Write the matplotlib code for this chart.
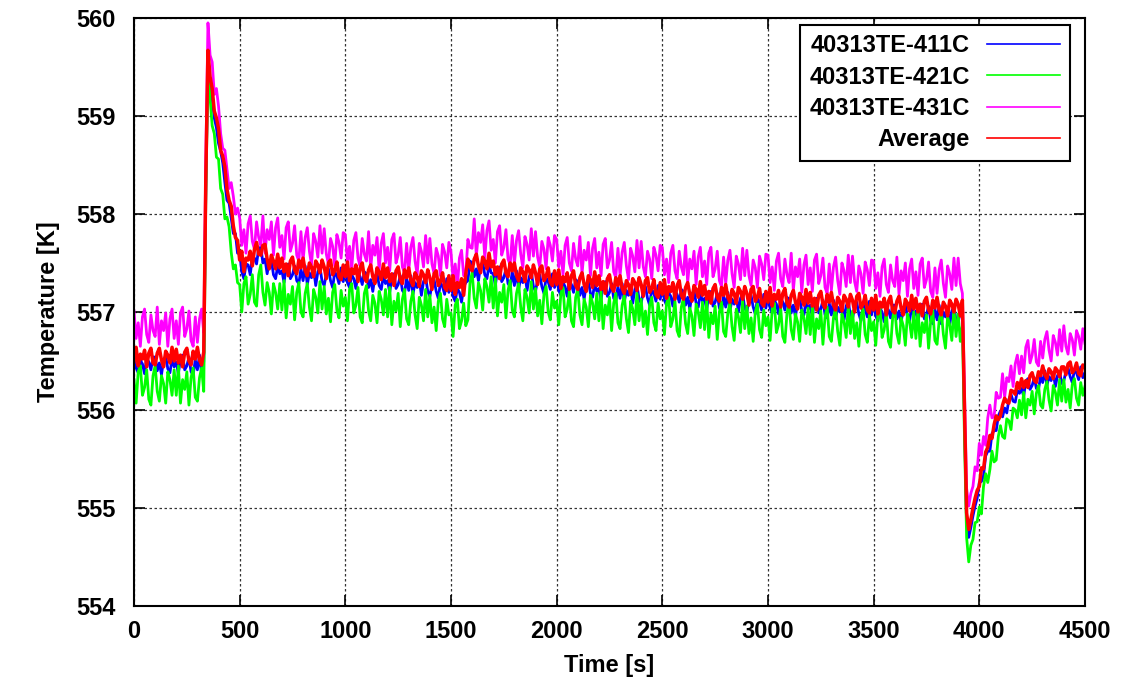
import numpy as np
import matplotlib
matplotlib.use("Agg")
import matplotlib.pyplot as plt

plt.rcParams['font.family'] = ['Liberation Sans', 'DejaVu Sans']
plt.rcParams['font.weight'] = 'bold'

# time axis, one reading every 10 s
time_s = np.arange(0, 4501, 10)

# values (K), one row = 100 s
te_411c = [
    556.56, 556.43, 556.38, 556.51, 556.47, 556.37, 556.53, 556.49, 556.41, 556.54,
    556.54, 556.40, 556.48, 556.36, 556.51, 556.55, 556.42, 556.38, 556.52, 556.44,
    556.49, 556.37, 556.53, 556.56, 556.41, 556.45, 556.54, 556.39, 556.36, 556.51,
    556.41, 556.56, 556.37, 556.49, 558.30, 559.58, 559.30, 559.18, 558.98, 558.88,
    558.72, 558.64, 558.52, 558.32, 558.14, 558.11, 557.96, 557.80, 557.80, 557.60,
    557.60, 557.41, 557.34, 557.49, 557.48, 557.38, 557.56, 557.55, 557.49, 557.65,
    557.66, 557.50, 557.54, 557.39, 557.51, 557.53, 557.38, 557.34, 557.47, 557.39,
    557.42, 557.30, 557.46, 557.49, 557.34, 557.38, 557.47, 557.32, 557.29, 557.44,
    557.32, 557.47, 557.28, 557.40, 557.35, 557.44, 557.27, 557.41, 557.46, 557.31,
    557.27, 557.39, 557.44, 557.32, 557.25, 557.41, 557.37, 557.29, 557.45, 557.31,
    557.43, 557.30, 557.25, 557.38, 557.34, 557.24, 557.40, 557.36, 557.28, 557.41,
    557.39, 557.25, 557.33, 557.21, 557.36, 557.40, 557.27, 557.23, 557.37, 557.29,
    557.32, 557.20, 557.36, 557.39, 557.24, 557.28, 557.37, 557.22, 557.19, 557.34,
    557.22, 557.37, 557.18, 557.30, 557.25, 557.34, 557.17, 557.31, 557.36, 557.21,
    557.16, 557.28, 557.33, 557.21, 557.14, 557.30, 557.26, 557.18, 557.34, 557.20,
    557.29, 557.16, 557.11, 557.24, 557.20, 557.10, 557.26, 557.30, 557.32, 557.52,
    557.50, 557.36, 557.44, 557.32, 557.47, 557.51, 557.38, 557.34, 557.48, 557.40,
    557.39, 557.27, 557.43, 557.46, 557.31, 557.35, 557.44, 557.29, 557.26, 557.41,
    557.27, 557.42, 557.23, 557.35, 557.30, 557.39, 557.22, 557.36, 557.41, 557.26,
    557.21, 557.33, 557.38, 557.26, 557.19, 557.35, 557.31, 557.23, 557.39, 557.25,
    557.35, 557.22, 557.17, 557.30, 557.26, 557.16, 557.32, 557.28, 557.20, 557.33,
    557.31, 557.17, 557.25, 557.13, 557.28, 557.32, 557.19, 557.15, 557.29, 557.21,
    557.24, 557.12, 557.28, 557.31, 557.16, 557.20, 557.29, 557.14, 557.11, 557.26,
    557.14, 557.29, 557.10, 557.22, 557.17, 557.26, 557.09, 557.23, 557.28, 557.13,
    557.09, 557.21, 557.26, 557.14, 557.07, 557.23, 557.19, 557.11, 557.27, 557.13,
    557.25, 557.12, 557.07, 557.20, 557.16, 557.06, 557.22, 557.18, 557.10, 557.23,
    557.21, 557.07, 557.15, 557.03, 557.18, 557.22, 557.09, 557.05, 557.19, 557.11,
    557.14, 557.02, 557.18, 557.21, 557.06, 557.10, 557.19, 557.04, 557.01, 557.16,
    557.05, 557.20, 557.01, 557.13, 557.08, 557.17, 557.00, 557.14, 557.19, 557.04,
    557.00, 557.12, 557.17, 557.05, 556.98, 557.14, 557.10, 557.02, 557.18, 557.04,
    557.17, 557.04, 556.99, 557.12, 557.08, 556.98, 557.14, 557.10, 557.02, 557.15,
    557.13, 556.99, 557.07, 556.95, 557.10, 557.14, 557.01, 556.97, 557.11, 557.03,
    557.07, 556.95, 557.11, 557.14, 556.99, 557.03, 557.12, 556.97, 556.94, 557.09,
    556.97, 557.12, 556.93, 557.05, 557.00, 557.09, 556.92, 557.06, 557.11, 556.96,
    556.93, 557.05, 557.10, 556.98, 556.91, 557.07, 557.03, 556.95, 557.11, 556.97,
    557.09, 556.96, 556.91, 557.04, 557.00, 556.90, 557.06, 557.02, 556.94, 557.07,
    557.07, 556.93, 557.01, 556.89, 557.04, 557.08, 556.95, 556.91, 557.05, 556.97,
    557.01, 556.89, 557.05, 557.08, 556.93, 556.97, 557.06, 556.91, 556.88, 557.03,
    556.92, 557.07, 556.88, 557.00, 556.95, 557.04, 556.87, 557.01, 557.06, 556.91,
    556.89, 557.01, 557.06, 555.90, 554.85, 554.70, 554.80, 554.92, 555.02, 555.10,
    555.26, 555.27, 555.33, 555.53, 555.58, 555.58, 555.76, 555.79, 555.79, 555.94,
    555.99, 555.93, 556.02, 555.97, 556.11, 556.16, 556.09, 556.08, 556.20, 556.17,
    556.22, 556.14, 556.29, 556.32, 556.21, 556.25, 556.33, 556.22, 556.21, 556.34,
    556.28, 556.40, 556.25, 556.34, 556.30, 556.38, 556.24, 556.35, 556.39, 556.27,
    556.30, 556.39, 556.43, 556.34, 556.28, 556.41, 556.38, 556.31, 556.44, 556.33,
    556.38,
]

te_421c = [
    556.31, 556.07, 556.39, 556.45, 556.15, 556.23, 556.41, 556.11, 556.05, 556.35,
    556.45, 556.19, 556.09, 556.35, 556.27, 556.07, 556.39, 556.31, 556.15, 556.41,
    556.15, 556.45, 556.07, 556.31, 556.21, 556.39, 556.05, 556.33, 556.43, 556.13,
    556.09, 556.33, 556.43, 556.19, 558.20, 559.48, 559.18, 558.90, 558.82, 558.58,
    558.56, 558.26, 558.20, 557.95, 557.97, 557.87, 557.61, 557.44, 557.48, 557.30,
    557.28, 557.00, 557.29, 557.36, 557.08, 557.18, 557.38, 557.10, 557.06, 557.38,
    557.48, 557.20, 557.07, 557.30, 557.20, 556.98, 557.29, 557.20, 557.03, 557.29,
    557.02, 557.32, 556.94, 557.18, 557.08, 557.26, 556.92, 557.20, 557.30, 557.00,
    556.95, 557.19, 557.29, 557.05, 556.91, 557.23, 557.15, 556.99, 557.31, 557.03,
    557.26, 556.98, 557.14, 556.90, 557.20, 557.28, 557.02, 556.94, 557.22, 557.06,
    557.15, 556.91, 557.23, 557.29, 556.99, 557.07, 557.25, 556.95, 556.89, 557.19,
    557.27, 557.01, 556.91, 557.17, 557.09, 556.89, 557.21, 557.13, 556.97, 557.23,
    556.95, 557.25, 556.87, 557.11, 557.01, 557.19, 556.85, 557.13, 557.23, 556.93,
    556.87, 557.11, 557.21, 556.97, 556.83, 557.15, 557.07, 556.91, 557.23, 556.95,
    557.17, 556.89, 557.05, 556.81, 557.11, 557.19, 556.93, 556.85, 557.13, 556.97,
    556.99, 556.75, 557.07, 557.13, 556.83, 556.91, 557.09, 556.86, 556.92, 557.30,
    557.40, 557.14, 557.04, 557.30, 557.22, 557.02, 557.34, 557.26, 557.10, 557.36,
    557.04, 557.34, 556.96, 557.20, 557.10, 557.28, 556.94, 557.22, 557.32, 557.02,
    556.95, 557.19, 557.29, 557.05, 556.91, 557.23, 557.15, 556.99, 557.31, 557.03,
    557.24, 556.96, 557.12, 556.88, 557.18, 557.26, 557.00, 556.92, 557.20, 557.04,
    557.11, 556.87, 557.19, 557.25, 556.95, 557.03, 557.21, 556.91, 556.85, 557.15,
    557.23, 556.97, 556.87, 557.13, 557.05, 556.85, 557.17, 557.09, 556.93, 557.19,
    556.91, 557.21, 556.83, 557.07, 556.97, 557.15, 556.81, 557.09, 557.19, 556.89,
    556.83, 557.07, 557.17, 556.93, 556.79, 557.11, 557.03, 556.87, 557.19, 556.91,
    557.13, 556.85, 557.01, 556.77, 557.07, 557.15, 556.89, 556.81, 557.09, 556.93,
    557.01, 556.77, 557.09, 557.15, 556.85, 556.93, 557.11, 556.81, 556.75, 557.05,
    557.14, 556.88, 556.78, 557.04, 556.96, 556.76, 557.08, 557.00, 556.84, 557.10,
    556.82, 557.12, 556.74, 556.98, 556.88, 557.06, 556.72, 557.00, 557.10, 556.80,
    556.75, 556.99, 557.09, 556.85, 556.71, 557.03, 556.95, 556.79, 557.11, 556.83,
    557.06, 556.78, 556.94, 556.70, 557.00, 557.08, 556.82, 556.74, 557.02, 556.86,
    556.95, 556.71, 557.03, 557.09, 556.79, 556.87, 557.05, 556.75, 556.69, 556.99,
    557.08, 556.82, 556.72, 556.98, 556.90, 556.70, 557.02, 556.94, 556.78, 557.04,
    556.77, 557.07, 556.69, 556.93, 556.83, 557.01, 556.67, 556.95, 557.05, 556.75,
    556.70, 556.94, 557.04, 556.80, 556.66, 556.98, 556.90, 556.74, 557.06, 556.78,
    557.01, 556.73, 556.89, 556.65, 556.95, 557.03, 556.77, 556.69, 556.97, 556.81,
    556.90, 556.66, 556.98, 557.04, 556.74, 556.82, 557.00, 556.70, 556.64, 556.94,
    557.04, 556.78, 556.68, 556.94, 556.86, 556.66, 556.98, 556.90, 556.74, 557.00,
    556.73, 557.03, 556.65, 556.89, 556.79, 556.97, 556.63, 556.91, 557.01, 556.71,
    556.67, 556.91, 557.01, 556.77, 556.63, 556.95, 556.87, 556.71, 557.03, 556.75,
    556.98, 556.70, 556.86, 555.70, 554.70, 554.45, 554.62, 554.68, 554.85, 554.86,
    555.01, 554.94, 555.22, 555.35, 555.26, 555.39, 555.58, 555.47, 555.49, 555.73,
    555.84, 555.73, 555.71, 555.91, 555.89, 555.80, 556.02, 556.00, 555.92, 556.10,
    555.95, 556.18, 555.92, 556.11, 556.05, 556.19, 555.96, 556.17, 556.25, 556.05,
    556.02, 556.21, 556.29, 556.10, 555.99, 556.25, 556.18, 556.05, 556.31, 556.09,
    556.31, 556.08, 556.21, 556.02, 556.26, 556.32, 556.12, 556.05, 556.28, 556.15,
    556.24,
]

te_431c = [
    557.01, 556.73, 556.89, 556.65, 556.95, 557.03, 556.77, 556.69, 556.97, 556.81,
    556.75, 557.05, 556.67, 556.91, 556.81, 556.99, 556.65, 556.93, 557.03, 556.73,
    556.91, 556.67, 556.99, 557.05, 556.75, 556.83, 557.01, 556.71, 556.65, 556.95,
    556.69, 556.93, 557.03, 556.79, 558.60, 559.95, 559.62, 559.55, 559.22, 559.28,
    559.10, 558.82, 558.67, 558.65, 558.46, 558.26, 558.32, 558.18, 558.00, 558.06,
    557.96, 557.68, 557.84, 557.60, 557.90, 557.98, 557.72, 557.64, 557.92, 557.76,
    557.68, 557.98, 557.60, 557.84, 557.74, 557.92, 557.58, 557.86, 557.96, 557.66,
    557.78, 557.54, 557.86, 557.92, 557.62, 557.70, 557.88, 557.58, 557.52, 557.82,
    557.52, 557.76, 557.86, 557.62, 557.48, 557.80, 557.72, 557.56, 557.88, 557.60,
    557.85, 557.59, 557.49, 557.75, 557.67, 557.47, 557.79, 557.71, 557.55, 557.81,
    557.79, 557.51, 557.67, 557.43, 557.73, 557.81, 557.55, 557.47, 557.75, 557.59,
    557.52, 557.82, 557.44, 557.68, 557.58, 557.76, 557.42, 557.70, 557.80, 557.50,
    557.66, 557.42, 557.74, 557.80, 557.50, 557.58, 557.76, 557.46, 557.40, 557.70,
    557.42, 557.66, 557.76, 557.52, 557.38, 557.70, 557.62, 557.46, 557.78, 557.50,
    557.75, 557.49, 557.39, 557.65, 557.57, 557.37, 557.69, 557.61, 557.45, 557.71,
    557.61, 557.33, 557.49, 557.25, 557.55, 557.63, 557.37, 557.39, 557.74, 557.66,
    557.65, 557.95, 557.57, 557.81, 557.71, 557.89, 557.55, 557.83, 557.93, 557.63,
    557.74, 557.50, 557.82, 557.88, 557.58, 557.66, 557.84, 557.54, 557.48, 557.78,
    557.49, 557.73, 557.83, 557.59, 557.45, 557.77, 557.69, 557.53, 557.85, 557.57,
    557.82, 557.56, 557.46, 557.72, 557.64, 557.44, 557.76, 557.68, 557.52, 557.78,
    557.74, 557.46, 557.62, 557.38, 557.68, 557.76, 557.50, 557.42, 557.70, 557.54,
    557.47, 557.77, 557.39, 557.63, 557.53, 557.71, 557.37, 557.65, 557.75, 557.45,
    557.61, 557.37, 557.69, 557.75, 557.45, 557.53, 557.71, 557.41, 557.35, 557.65,
    557.37, 557.61, 557.71, 557.47, 557.33, 557.65, 557.57, 557.41, 557.73, 557.45,
    557.72, 557.46, 557.36, 557.62, 557.54, 557.34, 557.66, 557.58, 557.42, 557.68,
    557.66, 557.38, 557.54, 557.30, 557.60, 557.68, 557.42, 557.34, 557.62, 557.46,
    557.38, 557.68, 557.30, 557.54, 557.44, 557.62, 557.28, 557.56, 557.66, 557.36,
    557.52, 557.28, 557.60, 557.66, 557.36, 557.44, 557.62, 557.32, 557.26, 557.56,
    557.29, 557.53, 557.63, 557.39, 557.25, 557.57, 557.49, 557.33, 557.65, 557.37,
    557.63, 557.37, 557.27, 557.53, 557.45, 557.25, 557.57, 557.49, 557.33, 557.59,
    557.58, 557.30, 557.46, 557.22, 557.52, 557.60, 557.34, 557.26, 557.54, 557.38,
    557.30, 557.60, 557.22, 557.46, 557.36, 557.54, 557.20, 557.48, 557.58, 557.28,
    557.45, 557.21, 557.53, 557.59, 557.29, 557.37, 557.55, 557.25, 557.19, 557.49,
    557.22, 557.46, 557.56, 557.32, 557.18, 557.50, 557.42, 557.26, 557.58, 557.30,
    557.57, 557.31, 557.21, 557.47, 557.39, 557.19, 557.51, 557.43, 557.27, 557.53,
    557.52, 557.24, 557.40, 557.16, 557.46, 557.54, 557.28, 557.20, 557.48, 557.32,
    557.26, 557.56, 557.18, 557.42, 557.32, 557.50, 557.16, 557.44, 557.54, 557.24,
    557.41, 557.17, 557.49, 557.55, 557.25, 557.33, 557.51, 557.21, 557.15, 557.45,
    557.19, 557.43, 557.53, 557.29, 557.15, 557.47, 557.39, 557.23, 557.55, 557.27,
    557.55, 557.29, 557.19, 556.20, 555.20, 555.02, 555.15, 555.22, 555.42, 555.38,
    555.66, 555.54, 555.73, 555.64, 555.92, 556.05, 555.92, 555.93, 556.18, 556.12,
    556.13, 556.37, 556.13, 556.33, 556.29, 556.45, 556.24, 556.47, 556.56, 556.37,
    556.55, 556.38, 556.64, 556.71, 556.48, 556.56, 556.72, 556.49, 556.45, 556.70,
    556.53, 556.72, 556.80, 556.61, 556.50, 556.76, 556.69, 556.56, 556.82, 556.60,
    556.86, 556.65, 556.57, 556.78, 556.72, 556.56, 556.81, 556.75, 556.62, 556.83,
    556.68,
]

average = [
    556.49, 556.64, 556.45, 556.57, 556.52, 556.61, 556.44, 556.58, 556.63, 556.48,
    556.46, 556.58, 556.63, 556.51, 556.44, 556.60, 556.56, 556.48, 556.64, 556.50,
    556.62, 556.48, 556.56, 556.44, 556.59, 556.63, 556.50, 556.46, 556.60, 556.52,
    556.64, 556.51, 556.46, 556.59, 558.40, 559.67, 559.40, 559.28, 559.05, 558.98,
    558.87, 558.65, 558.59, 558.48, 558.25, 558.14, 558.08, 557.88, 557.76, 557.73,
    557.53, 557.62, 557.41, 557.55, 557.53, 557.62, 557.47, 557.64, 557.71, 557.59,
    557.58, 557.68, 557.69, 557.54, 557.44, 557.58, 557.52, 557.44, 557.59, 557.45,
    557.55, 557.41, 557.49, 557.37, 557.52, 557.56, 557.43, 557.39, 557.53, 557.45,
    557.55, 557.42, 557.37, 557.50, 557.46, 557.36, 557.52, 557.48, 557.40, 557.53,
    557.46, 557.34, 557.50, 557.53, 557.38, 557.42, 557.51, 557.36, 557.33, 557.48,
    557.36, 557.51, 557.32, 557.44, 557.39, 557.48, 557.31, 557.45, 557.50, 557.35,
    557.31, 557.43, 557.48, 557.36, 557.29, 557.45, 557.41, 557.33, 557.49, 557.35,
    557.45, 557.31, 557.39, 557.27, 557.42, 557.46, 557.33, 557.29, 557.43, 557.35,
    557.45, 557.32, 557.27, 557.40, 557.36, 557.26, 557.42, 557.38, 557.30, 557.43,
    557.35, 557.23, 557.39, 557.42, 557.27, 557.31, 557.40, 557.25, 557.22, 557.37,
    557.22, 557.37, 557.18, 557.30, 557.25, 557.34, 557.17, 557.39, 557.54, 557.46,
    557.42, 557.54, 557.59, 557.47, 557.40, 557.56, 557.52, 557.44, 557.60, 557.46,
    557.52, 557.38, 557.46, 557.34, 557.49, 557.53, 557.40, 557.36, 557.50, 557.42,
    557.50, 557.37, 557.32, 557.45, 557.41, 557.31, 557.47, 557.43, 557.35, 557.48,
    557.40, 557.28, 557.44, 557.47, 557.32, 557.36, 557.45, 557.30, 557.27, 557.42,
    557.28, 557.43, 557.24, 557.36, 557.31, 557.40, 557.23, 557.37, 557.42, 557.27,
    557.23, 557.35, 557.40, 557.28, 557.21, 557.37, 557.33, 557.25, 557.41, 557.27,
    557.37, 557.23, 557.31, 557.19, 557.34, 557.38, 557.25, 557.21, 557.35, 557.27,
    557.37, 557.24, 557.19, 557.32, 557.28, 557.18, 557.34, 557.30, 557.22, 557.35,
    557.28, 557.16, 557.32, 557.35, 557.20, 557.24, 557.33, 557.18, 557.15, 557.30,
    557.18, 557.33, 557.14, 557.26, 557.21, 557.30, 557.13, 557.27, 557.32, 557.17,
    557.13, 557.25, 557.30, 557.18, 557.11, 557.27, 557.23, 557.15, 557.31, 557.17,
    557.27, 557.13, 557.21, 557.09, 557.24, 557.28, 557.15, 557.11, 557.25, 557.17,
    557.28, 557.15, 557.10, 557.23, 557.19, 557.09, 557.25, 557.21, 557.13, 557.26,
    557.19, 557.07, 557.23, 557.26, 557.11, 557.15, 557.24, 557.09, 557.06, 557.21,
    557.10, 557.25, 557.06, 557.18, 557.13, 557.22, 557.05, 557.19, 557.24, 557.09,
    557.05, 557.17, 557.22, 557.10, 557.03, 557.19, 557.15, 557.07, 557.23, 557.09,
    557.20, 557.06, 557.14, 557.02, 557.17, 557.21, 557.08, 557.04, 557.18, 557.10,
    557.20, 557.07, 557.02, 557.15, 557.11, 557.01, 557.17, 557.13, 557.05, 557.18,
    557.12, 557.00, 557.16, 557.19, 557.04, 557.08, 557.17, 557.02, 556.99, 557.14,
    557.02, 557.17, 556.98, 557.10, 557.05, 557.14, 556.97, 557.11, 557.16, 557.01,
    556.99, 557.11, 557.16, 557.04, 556.97, 557.13, 557.09, 557.01, 557.17, 557.03,
    557.14, 557.00, 557.08, 556.96, 557.11, 557.15, 557.02, 556.98, 557.12, 557.04,
    557.15, 557.02, 556.97, 557.10, 557.06, 556.96, 557.12, 557.08, 557.00, 557.13,
    557.08, 556.96, 557.12, 556.00, 554.95, 554.78, 554.88, 555.00, 555.10, 555.18,
    555.22, 555.41, 555.40, 555.57, 555.62, 555.74, 555.71, 555.85, 555.94, 555.90,
    555.94, 556.05, 556.12, 556.08, 556.07, 556.20, 556.19, 556.16, 556.28, 556.22,
    556.32, 556.23, 556.30, 556.23, 556.35, 556.38, 556.30, 556.28, 556.39, 556.35,
    556.45, 556.36, 556.32, 556.42, 556.39, 556.32, 556.43, 556.40, 556.34, 556.44,
    556.44, 556.36, 556.47, 556.49, 556.38, 556.41, 556.48, 556.37, 556.35, 556.46,
    556.44,
]

labels = ['40313TE-411C', '40313TE-421C', '40313TE-431C', 'Average']
colors = ['#0000ff', '#00ff00', '#ff00ff', '#ff0000']
series = [te_411c, te_421c, te_431c, average]

fig = plt.figure(figsize=(11.27, 6.94), dpi=100)
ax = fig.add_axes([0.1189, 0.1268, 0.8438, 0.8473])

for vals, lab, col in zip(series, labels, colors):
    lw = 2.5 if lab == 'Average' else 2.0
    ax.plot(time_s, vals, color=col, lw=lw, label=lab)

ax.set_xlim(0, 4500)
ax.set_ylim(554, 560)
ax.set_xticks(np.arange(0, 4501, 500))
ax.set_yticks(np.arange(554, 560.1, 1))
ax.grid(True, color='#333333', lw=0.9, ls=(0, (2, 2)))
ax.tick_params(direction='in', top=True, right=True, length=8, width=1.2,
               labelsize=17)
ax.tick_params(axis='x', pad=10)
ax.tick_params(axis='y', pad=13)
for s in ax.spines.values():
    s.set_linewidth(1.5)

ax.set_xlabel('Time [s]', fontsize=17, fontweight='bold', labelpad=8)
ax.set_ylabel('Temperature [K]', fontsize=17, fontweight='bold', labelpad=12)

leg = ax.legend(loc='upper right', bbox_to_anchor=(0.9842, 0.988),
                borderaxespad=0, markerfirst=False,
                prop={'size': 17, 'weight': 'bold'},
                handlelength=3.1, handletextpad=0.75, labelspacing=0.35,
                borderpad=0.4, fancybox=False, framealpha=1, edgecolor='black')
leg.get_frame().set_linewidth(1.5)
for h in leg.get_lines():
    h.set_linewidth(1.2)

fig.savefig('out.png', dpi=100)
